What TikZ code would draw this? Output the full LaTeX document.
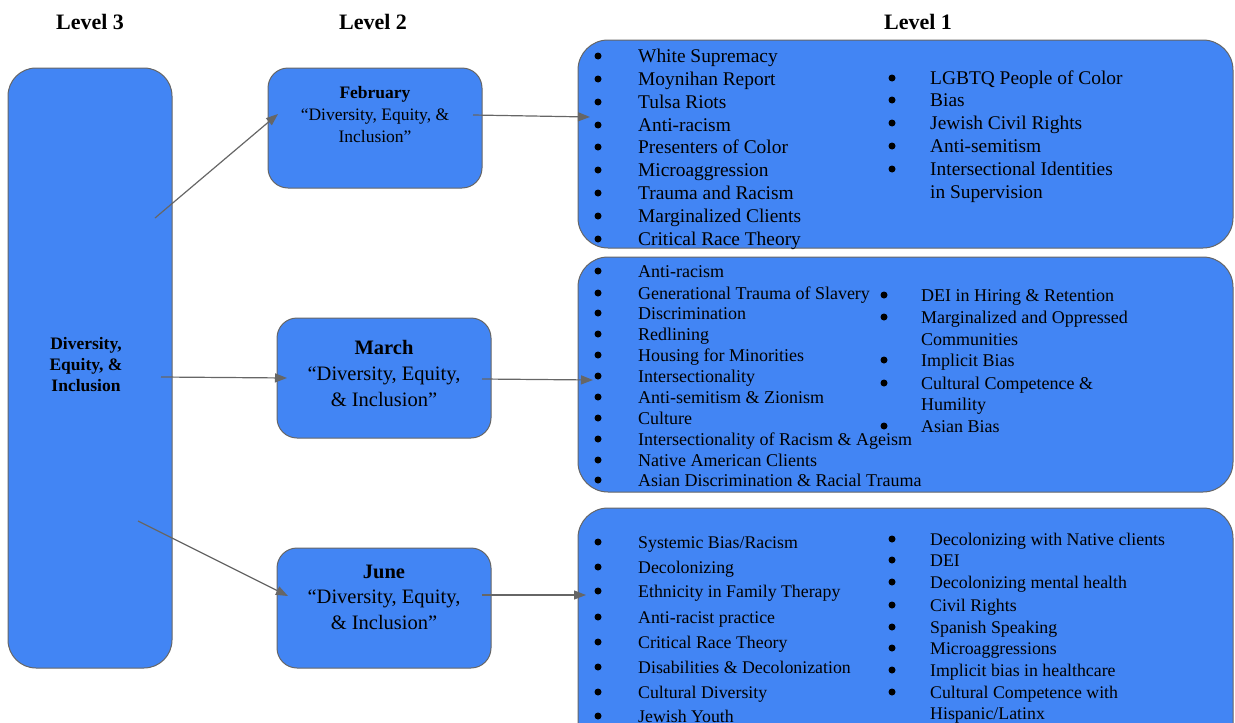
\documentclass[tikz,border=0pt]{standalone}
\usepackage{fontspec}
\setmainfont{Liberation Serif}
\usetikzlibrary{arrows.meta}
\definecolor{boxblue}{HTML}{4285F4}
\definecolor{linegray}{HTML}{666666}
\tikzset{
  block/.style={draw=linegray, line width=1pt, fill=boxblue, inner sep=0pt},
  link/.style={draw=linegray, line width=1.2pt, -{Triangle[length=12pt,width=9pt]}},
  heading/.style={font=\fontsize{22}{26}\selectfont\bfseries},
  item/.style={anchor=west, inner sep=0pt, text height=14pt, text depth=2pt, font=\fontsize{#1}{#1}\selectfont},
  dot/.style={circle, fill=black, inner sep=0pt, minimum size=7pt},
}
\begin{document}
\begin{tikzpicture}[x=1pt, y=-1pt]
\useasboundingbox (0,0) rectangle (1235,723);
\clip (0,0) rectangle (1235,723);

\node[heading] (h3) at (90,22) {Level 3};
\node[heading] (h2) at (373,22) {Level 2};
\node[heading] (h1) at (918,22) {Level 1};

% level 3
\node[block, rounded corners=28pt, minimum width=164pt, minimum height=600pt] (lvl3) at (90,368) {};
\node[align=center, font=\fontsize{17.5}{21}\selectfont\bfseries] (lvl3t) at (86,365) {Diversity,\\Equity, \&\\Inclusion};

% level 2
\node[block, rounded corners=20pt, minimum width=214pt, minimum height=120pt] (feb) at (375,128) {};
\node[block, rounded corners=20pt, minimum width=214pt, minimum height=120pt] (mar) at (384,378) {};
\node[block, rounded corners=20pt, minimum width=214pt, minimum height=120pt] (jun) at (384,608) {};
\node[align=center, font=\fontsize{17.5}{22}\selectfont] (febt) at (375,115) {\textbf{February}\\``Diversity, Equity, \&\\Inclusion''};
\node[align=center, font=\fontsize{20.5}{26}\selectfont] (mart) at (384,373) {\textbf{March}\\``Diversity, Equity,\\\& Inclusion''};
\node[align=center, font=\fontsize{20.5}{25.5}\selectfont] (junt) at (384,597) {\textbf{June}\\``Diversity, Equity,\\\& Inclusion''};

% level 1
\node[block, rounded corners=30pt, minimum width=655pt, minimum height=208pt] (la) at (905.5,144) {};
\node[block, rounded corners=30pt, minimum width=655pt, minimum height=235pt] (lb) at (905.5,374.5) {};
\node[block, rounded corners=30pt, minimum width=655pt, minimum height=252pt] (lc) at (905.5,634) {};

% arrows
\coordinate (s1) at (155,218);
\coordinate (e1) at (278,114);
\coordinate (s2) at (161,377);
\coordinate (e2) at (287,378);
\coordinate (s3) at (138,521);
\coordinate (e3) at (288,596);
\coordinate (s4) at (473,115);
\coordinate (e4) at (590,117);
\coordinate (s5) at (482,379);
\coordinate (e5) at (593,380);
\coordinate (s6) at (482,595);
\coordinate (e6) at (586,595);
\draw[link] (s1) -- (e1);
\draw[link] (s2) -- (e2);
\draw[link] (s3) -- (e3);
\draw[link] (s4) -- (e4);
\draw[link] (s5) -- (e5);
\draw[link] (s6) -- (e6);

% February topics
\foreach \y/\t [count=\i] in {56/White Supremacy, 79/Moynihan Report, 102/Tulsa Riots, 125/Anti-racism, 147/Presenters of Color, 170/Microaggression, 193/Trauma and Racism, 216/Marginalized Clients, 239/Critical Race Theory}{
  \node[dot] (fad\i) at (598,\y) {};
  \node[item=19.4] (fa\i) at (638,\y) {\t};
}
\foreach \y/\t [count=\i] in {78/LGBTQ People of Color, 100/Bias, 123/Jewish Civil Rights, 146/Anti-semitism, 169/Intersectional Identities}{
  \node[dot] (fbd\i) at (892,\y) {};
  \node[item=19.4] (fb\i) at (930,\y) {\t};
}
\node[item=19.4] (fb6) at (930,192) {in Supervision};

% March topics
\foreach \y/\t [count=\i] in {271/Anti-racism, 293/Generational Trauma of Slavery, 313/Discrimination, 334/Redlining, 355/Housing for Minorities, 376/Intersectionality, 397/Anti-semitism \& Zionism, 418/Culture, 439/Intersectionality of Racism \& Ageism, 460/Native American Clients, 480/Asian Discrimination \& Racial Trauma}{
  \node[dot] (mad\i) at (598,\y) {};
  \node[item=18] (ma\i) at (638,\y) {\t};
}
\foreach \y/\t [count=\i] in {295/DEI in Hiring \& Retention, 317/Marginalized and Oppressed, 360/Implicit Bias, 383/Cultural Competence \&, 426/Asian Bias}{
  \node[dot] (mbd\i) at (884,\y) {};
  \node[item=18] (mb\i) at (921,\y) {\t};
}
\node[item=18] (mb6) at (921,339) {Communities};
\node[item=18] (mb7) at (921,404) {Humility};

% June topics
\foreach \y/\t [count=\i] in {542/{Systemic Bias/Racism}, 567/Decolonizing, 591/Ethnicity in Family Therapy, 617/Anti-racist practice, 642/Critical Race Theory, 667/Disabilities \& Decolonization, 692/Cultural Diversity, 716/Jewish Youth}{
  \node[dot] (jad\i) at (598,\y) {};
  \node[item=17.8] (ja\i) at (638,\y) {\t};
}
\foreach \y/\t [count=\i] in {539/Decolonizing with Native clients, 560/DEI, 582/Decolonizing mental health, 605/Civil Rights, 627/Spanish Speaking, 648/Microaggressions, 670/Implicit bias in healthcare, 692/Cultural Competence with}{
  \node[dot] (jbd\i) at (892,\y) {};
  \node[item=17.8] (jb\i) at (930,\y) {\t};
}
\node[item=17.8] (jb9) at (930,713) {{Hispanic/Latinx}};

\end{tikzpicture}
\end{document}
